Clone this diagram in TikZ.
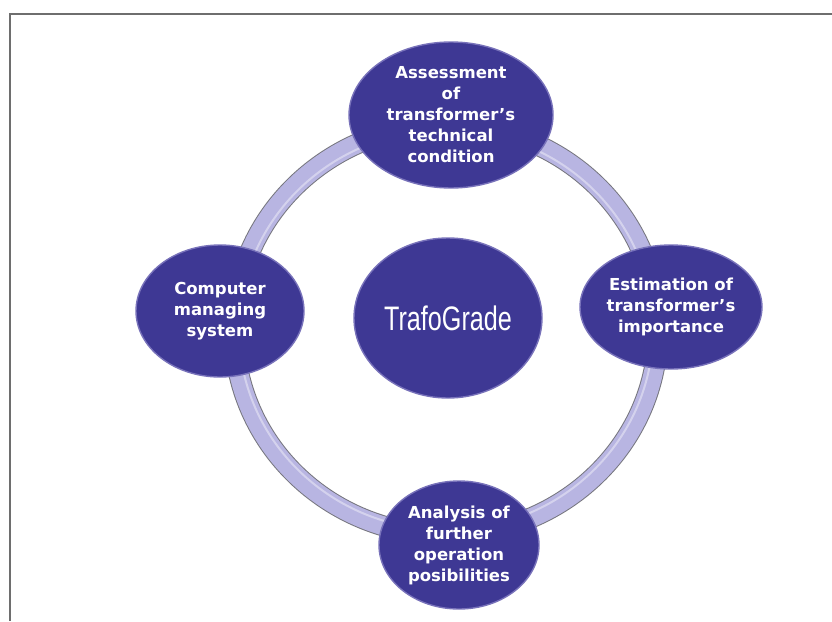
\documentclass[tikz,border=0pt]{standalone}
\usepackage{fontspec}
\usepackage{graphicx}
\setmainfont{DejaVu Sans}
\newfontfamily\gradefont{Liberation Sans}
\usetikzlibrary{shapes.geometric}

\definecolor{discfill}{RGB}{62,56,148}
\definecolor{discrim}{RGB}{120,114,186}
\definecolor{ringfill}{RGB}{184,181,226}
\definecolor{ringedge}{RGB}{118,118,126}
\definecolor{framegray}{RGB}{110,110,110}

\tikzset{
  disc/.style={ellipse, fill=discfill, draw=discrim, line width=1.4pt,
    inner sep=0pt, text=white, align=center,
    font=\fontsize{16.5}{21}\selectfont\bfseries},
  hub/.style={disc, font=\fontsize{34}{40}\selectfont\gradefont},
}

\begin{document}
\begin{tikzpicture}[x=1pt,y=-1pt]
  \useasboundingbox (0,0) rectangle (832,621);
  \fill[white] (0,0) rectangle (832,621);

  % frame edges
  \draw[framegray, line width=1.5pt] (10,621) -- (10,14) -- (832,14);

  % cycle ring
  \draw[ringedge, line width=21pt] (446,330) ellipse [x radius=212, y radius=205];
  \draw[ringfill, line width=19pt] (446,330) ellipse [x radius=212, y radius=205];
  \draw[white, opacity=0.4, line width=2pt] (446,330) ellipse [x radius=207, y radius=200];

  % stages
  \node[disc, minimum width=204, minimum height=146] (assess) at (451,115)
    {Assessment\\of\\transformer's\\technical\\condition};
  \node[disc, minimum width=166, minimum height=124] (importance) at (671,307)
    {Estimation of\\transformer's\\importance};
  \node[disc, minimum width=160, minimum height=128] (analysis) at (459,545)
    {Analysis of\\further\\operation\\posibilities};
  \node[disc, minimum width=168, minimum height=132] (computer) at (220,311)
    {Computer\\managing\\system};

  % hub
  \node[hub, minimum width=188, minimum height=160] (grade) at (448,318)
    {\scalebox{0.74}[1]{TrafoGrade}};
\end{tikzpicture}
\end{document}
